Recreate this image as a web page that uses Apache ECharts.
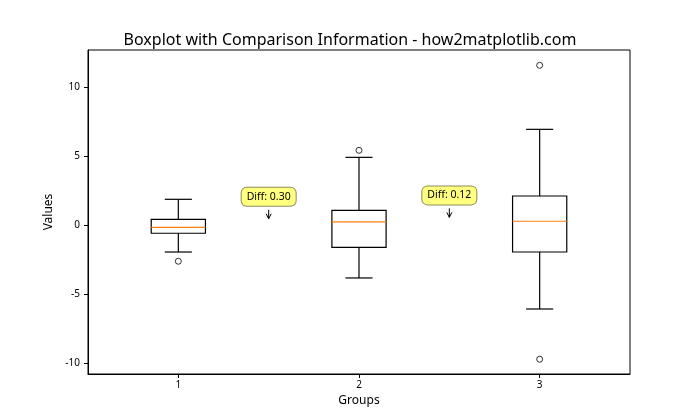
<!DOCTYPE html>
<html>
<head>
<meta charset="utf-8">
<script src="https://cdn.jsdelivr.net/npm/echarts@6/dist/echarts.min.js"></script>
<style>html,body{margin:0;padding:0;background:#fff}#c{width:700px;height:420px}</style>
</head>
<body>
<div id="c"></div>
<script>
const categories = ['1', '2', '3'];
const whiskerLow = [-1.96, -3.84, -6.09];
const q1 = [-0.60, -1.62, -1.96];
const median = [-0.17, 0.22, 0.27];
const q3 = [0.41, 1.06, 2.10];
const whiskerHigh = [1.86, 4.90, 6.93];
const outlierGroup = [0, 1, 2, 2];
const outlierValue = [-2.63, 5.41, 11.57, -9.73];
const yTicks = [-10, -5, 0, 5, 10];
const annotLabels = ['Diff: 0.30', 'Diff: 0.12'];
const annotLeftGroup = [0, 1];
const annotTipY = [0.45, 0.55];

const FONT = 'Noto Sans';
const boxData = categories.map((c, i) => [i, whiskerLow[i], q1[i], median[i], q3[i], whiskerHigh[i]]);
const outlierData = outlierGroup.map((g, i) => [g, outlierValue[i]]);
const annotData = annotLeftGroup.map((g, i) => [g, annotTipY[i]]);

const chart = echarts.init(document.getElementById('c'), null, {renderer: 'canvas'});
chart.setOption({
  animation: false,
  backgroundColor: '#fff',
  title: {
    text: 'Boxplot with Comparison Information - how2matplotlib.com',
    left: 'center', top: 27,
    textStyle: {fontFamily: FONT, fontSize: 16, fontWeight: 'normal', color: '#000'}
  },
  grid: {left: 88, right: 70, top: 50, bottom: 46, show: true, borderColor: '#000', borderWidth: 1, backgroundColor: 'transparent'},
  xAxis: {
    type: 'category', data: categories, boundaryGap: true,
    name: 'Groups', nameLocation: 'middle', nameGap: 21,
    nameTextStyle: {fontFamily: FONT, fontSize: 12, color: '#000'},
    axisLine: {show: true, onZero: false, lineStyle: {color: '#000', width: 1}},
    axisTick: {show: true, alignWithLabel: true, length: 4, lineStyle: {color: '#000'}},
    axisLabel: {fontFamily: FONT, fontSize: 10, color: '#000', margin: 6},
    splitLine: {show: false}
  },
  yAxis: {
    type: 'value', min: -10.8, max: 12.68,
    name: 'Values', nameLocation: 'middle', nameGap: 27,
    nameTextStyle: {fontFamily: FONT, fontSize: 12, color: '#000'},
    axisLine: {show: true, onZero: false, lineStyle: {color: '#000', width: 1}},
    axisTick: {show: true, length: 4, lineStyle: {color: '#000'}, customValues: yTicks},
    axisLabel: {fontFamily: FONT, fontSize: 10, color: '#000', margin: 8, customValues: yTicks},
    splitLine: {show: false}
  },
  series: [
    {
      type: 'custom',
      data: boxData,
      encode: {x: 0, y: [1, 2, 3, 4, 5]},
      renderItem: function (params, api) {
        const i = api.value(0);
        const bw = api.size([1, 0])[0];
        const cx = api.coord([i, 0])[0];
        const yLo = api.coord([i, api.value(1)])[1];
        const yQ1 = api.coord([i, api.value(2)])[1];
        const yMed = api.coord([i, api.value(3)])[1];
        const yQ3 = api.coord([i, api.value(4)])[1];
        const yHi = api.coord([i, api.value(5)])[1];
        const hb = bw * 0.15, hc = bw * 0.075;
        const st = {stroke: '#000', lineWidth: 1.2, fill: null};
        return {
          type: 'group',
          children: [
            {type: 'line', shape: {x1: cx, y1: yQ3, x2: cx, y2: yHi}, style: st},
            {type: 'line', shape: {x1: cx, y1: yQ1, x2: cx, y2: yLo}, style: st},
            {type: 'line', shape: {x1: cx - hc, y1: yHi, x2: cx + hc, y2: yHi}, style: st},
            {type: 'line', shape: {x1: cx - hc, y1: yLo, x2: cx + hc, y2: yLo}, style: st},
            {type: 'rect', shape: {x: cx - hb, y: yQ3, width: 2 * hb, height: yQ1 - yQ3}, style: {stroke: '#000', lineWidth: 1.2, fill: 'none'}},
            {type: 'line', shape: {x1: cx - hb, y1: yMed, x2: cx + hb, y2: yMed}, style: {stroke: '#ff7f0e', lineWidth: 1.2}}
          ]
        };
      }
    },
    {
      type: 'scatter',
      data: outlierData,
      symbol: 'circle', symbolSize: 6,
      itemStyle: {color: '#fff', borderColor: '#000', borderWidth: 1},
      z: 3
    },
    {
      type: 'custom',
      data: annotData,
      encode: {x: 0, y: 1},
      z: 5,
      renderItem: function (params, api) {
        const g = api.value(0);
        const bw = api.size([1, 0])[0];
        const p = api.coord([g, api.value(1)]);
        const x = p[0] + bw / 2;
        const tip = p[1];
        const lbl = annotLabels[params.dataIndex];
        return {
          type: 'group',
          children: [
            {type: 'line', shape: {x1: x, y1: tip - 9, x2: x, y2: tip}, style: {stroke: '#000', lineWidth: 1}},
            {type: 'polyline', shape: {points: [[x - 2.5, tip - 5], [x, tip], [x + 2.5, tip - 5]]}, style: {stroke: '#000', lineWidth: 1, fill: null}},
            {type: 'text', x: x, y: tip - 22,
              style: {text: lbl, fill: '#000', fontFamily: FONT, fontSize: 10.5, align: 'center', verticalAlign: 'middle',
                backgroundColor: '#ffff80', borderColor: '#8c8c5a', borderWidth: 1, borderRadius: 5, padding: [4, 5, 3, 5]}}
          ]
        };
      }
    }
  ]
});
</script>
</body>
</html>
